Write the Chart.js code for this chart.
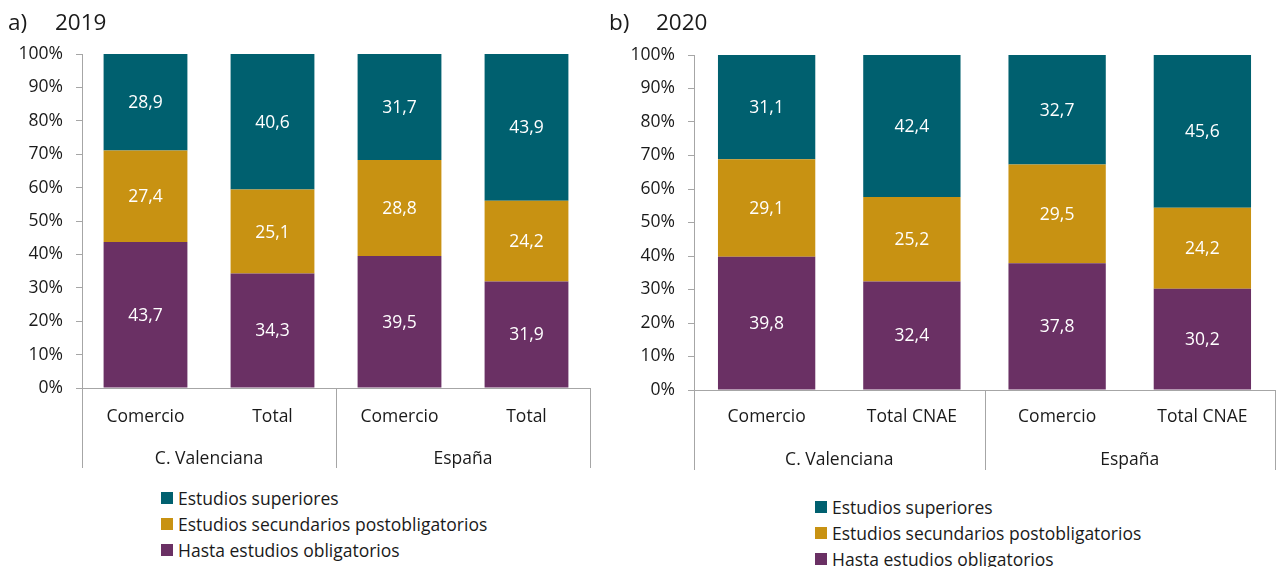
<!DOCTYPE html>
<html>
<head>
<meta charset="utf-8">
<script src="https://cdn.jsdelivr.net/npm/chart.js@4/dist/chart.umd.min.js"></script>
<style>
  html, body { margin: 0; padding: 0; background: #fff; }
  body { width: 1276px; height: 567px; position: relative; overflow: hidden;
         font-family: "Open Sans", sans-serif; color: #1a1a1a; }
  .panel { position: absolute; top: 0; }
  .panel canvas { position: absolute; left: 0; top: 0; }
  .title { position: absolute; font-size: 22.5px; line-height: 26px; white-space: nowrap; }
  .title .yr { position: absolute; left: 47px; }
  .legend { position: absolute; font-size: 17.5px; line-height: 26px; white-space: nowrap; }
  .legend div { display: flex; align-items: center; }
  .legend span.box { display: inline-block; width: 12px; height: 12px; margin-right: 5px; }
</style>
</head>
<body>
<div class="panel" id="panelA" style="left:0; width:600px; height:567px;">
  <canvas id="chartA"></canvas>
  <div class="title" style="left:8px; top:9px;">a)<span class="yr">2019</span></div>
  <div class="legend" id="legendA" style="left:161px; top:485px;"></div>
</div>
<div class="panel" id="panelB" style="left:600px; width:676px; height:567px;">
  <canvas id="chartB"></canvas>
  <div class="title" style="left:9px; top:9px;">b)<span class="yr">2020</span></div>
  <div class="legend" id="legendB" style="left:215px; top:494px;"></div>
</div>
<script>
// Categories and groups
const categories2019 = ['Comercio', 'Total', 'Comercio', 'Total'];
const categories2020 = ['Comercio', 'Total CNAE', 'Comercio', 'Total CNAE'];
const groups = ['C. Valenciana', 'España'];

// Series names and colours (legend order: top to bottom)
const seriesNames = ['Estudios superiores', 'Estudios secundarios postobligatorios', 'Hasta estudios obligatorios'];
const seriesColors = ['#00606F', '#C89212', '#6A3064'];

// Shares (%) per category
const superiores2019 = [28.9, 40.6, 31.7, 43.9];
const secundarios2019 = [27.4, 25.1, 28.8, 24.2];
const obligatorios2019 = [43.7, 34.3, 39.5, 31.9];

const superiores2020 = [31.1, 42.4, 32.7, 45.6];
const secundarios2020 = [29.1, 25.2, 29.5, 24.2];
const obligatorios2020 = [39.8, 32.4, 37.8, 30.2];

// Y axis tick values
const yTicks = [0, 10, 20, 30, 40, 50, 60, 70, 80, 90, 100];

const FONT = '"Open Sans", sans-serif';
const FONT_SIZE = 17.5;
const AXIS_GREY = '#a6a6a6';
const TEXT = '#1a1a1a';

// White value labels in the middle of each segment
const valueLabels = {
  id: 'valueLabels',
  afterDatasetsDraw(chart) {
    const ctx = chart.ctx;
    ctx.save();
    ctx.font = FONT_SIZE + 'px ' + FONT;
    ctx.fillStyle = '#ffffff';
    ctx.textAlign = 'center';
    ctx.textBaseline = 'middle';
    chart.data.datasets.forEach((ds, di) => {
      const meta = chart.getDatasetMeta(di);
      meta.data.forEach((el, i) => {
        const v = ds.data[i];
        const txt = v.toFixed(1).replace('.', ',');
        ctx.fillText(txt, el.x, (el.y + el.base) / 2 + 1);
      });
    });
    ctx.restore();
  }
};

// Vertical separators of the two-level category axis
const groupLines = {
  id: 'groupLines',
  afterDraw(chart, args, opts) {
    const x = chart.scales.x;
    const area = chart.chartArea;
    const ctx = chart.ctx;
    const mid = (x.getPixelForValue(1) + x.getPixelForValue(2)) / 2;
    const bottom = area.bottom + opts.depth;
    ctx.save();
    ctx.strokeStyle = AXIS_GREY;
    ctx.lineWidth = 1;
    [area.left, mid, area.right].forEach(px => {
      const p = Math.round(px) + 0.5;
      ctx.beginPath();
      ctx.moveTo(p, area.bottom);
      ctx.lineTo(p, bottom);
      ctx.stroke();
    });
    ctx.restore();
  }
};

function makeChart(canvasId, width, height, cats, top, mid, bottom, opt) {
  const canvas = document.getElementById(canvasId);
  canvas.width = width;
  canvas.height = height;
  canvas.style.width = width + 'px';
  canvas.style.height = height + 'px';
  return new Chart(canvas, {
    type: 'bar',
    data: {
      labels: cats,
      datasets: [
        { label: seriesNames[2], data: bottom, backgroundColor: seriesColors[2] },
        { label: seriesNames[1], data: mid, backgroundColor: seriesColors[1] },
        { label: seriesNames[0], data: top, backgroundColor: seriesColors[0] }
      ]
    },
    options: {
      responsive: false,
      animation: false,
      devicePixelRatio: 1,
      layout: { padding: { top: opt.padTop, right: opt.padRight, bottom: 0, left: 0 } },
      datasets: { bar: { categoryPercentage: 1, barPercentage: opt.barPct } },
      plugins: {
        legend: { display: false },
        tooltip: { enabled: false },
        groupLines: { depth: opt.lineDepth }
      },
      scales: {
        y: {
          stacked: true,
          min: 0, max: 100,
          afterBuildTicks(scale) { scale.ticks = yTicks.map(v => ({ value: v })); },
          afterFit(scale) { scale.width = opt.yWidth; },
          ticks: {
            callback: v => v + '%',
            font: { family: FONT, size: FONT_SIZE },
            color: TEXT,
            padding: 13
          },
          grid: { drawOnChartArea: false, drawTicks: true, tickLength: 6, color: AXIS_GREY },
          border: { display: true, color: AXIS_GREY, width: 1 }
        },
        x: {
          stacked: true,
          position: 'bottom',
          afterFit(scale) { scale.height = opt.catHeight; },
          ticks: { font: { family: FONT, size: FONT_SIZE }, color: TEXT, padding: opt.catPad, maxRotation: 0 },
          grid: { display: false, drawTicks: false },
          border: { display: true, color: AXIS_GREY, width: 1 }
        },
        g: {
          type: 'category',
          position: 'bottom',
          labels: groups,
          offset: true,
          afterFit(scale) { scale.height = opt.grpHeight; },
          ticks: { font: { family: FONT, size: FONT_SIZE }, color: TEXT, padding: opt.grpPad, maxRotation: 0 },
          grid: { display: false, drawTicks: false },
          border: { display: false }
        }
      }
    },
    plugins: [valueLabels, groupLines]
  });
}

makeChart('chartA', 600, 470, categories2019,
  superiores2019, secundarios2019, obligatorios2019,
  { padTop: 54, padRight: 10, yWidth: 82, barPct: 0.66, catHeight: 52, catPad: 19,
    grpHeight: 30, grpPad: 9, lineDepth: 80 });

makeChart('chartB', 676, 472, categories2020,
  superiores2020, secundarios2020, obligatorios2020,
  { padTop: 55, padRight: 1, yWidth: 94, barPct: 0.67, catHeight: 52, catPad: 17,
    grpHeight: 30, grpPad: 8, lineDepth: 80 });

// HTML legends built from the series definitions
function buildLegend(id) {
  const el = document.getElementById(id);
  seriesNames.forEach((name, i) => {
    const row = document.createElement('div');
    const box = document.createElement('span');
    box.className = 'box';
    box.style.background = seriesColors[i];
    row.appendChild(box);
    row.appendChild(document.createTextNode(name));
    el.appendChild(row);
  });
}
buildLegend('legendA');
buildLegend('legendB');
</script>
</body>
</html>
